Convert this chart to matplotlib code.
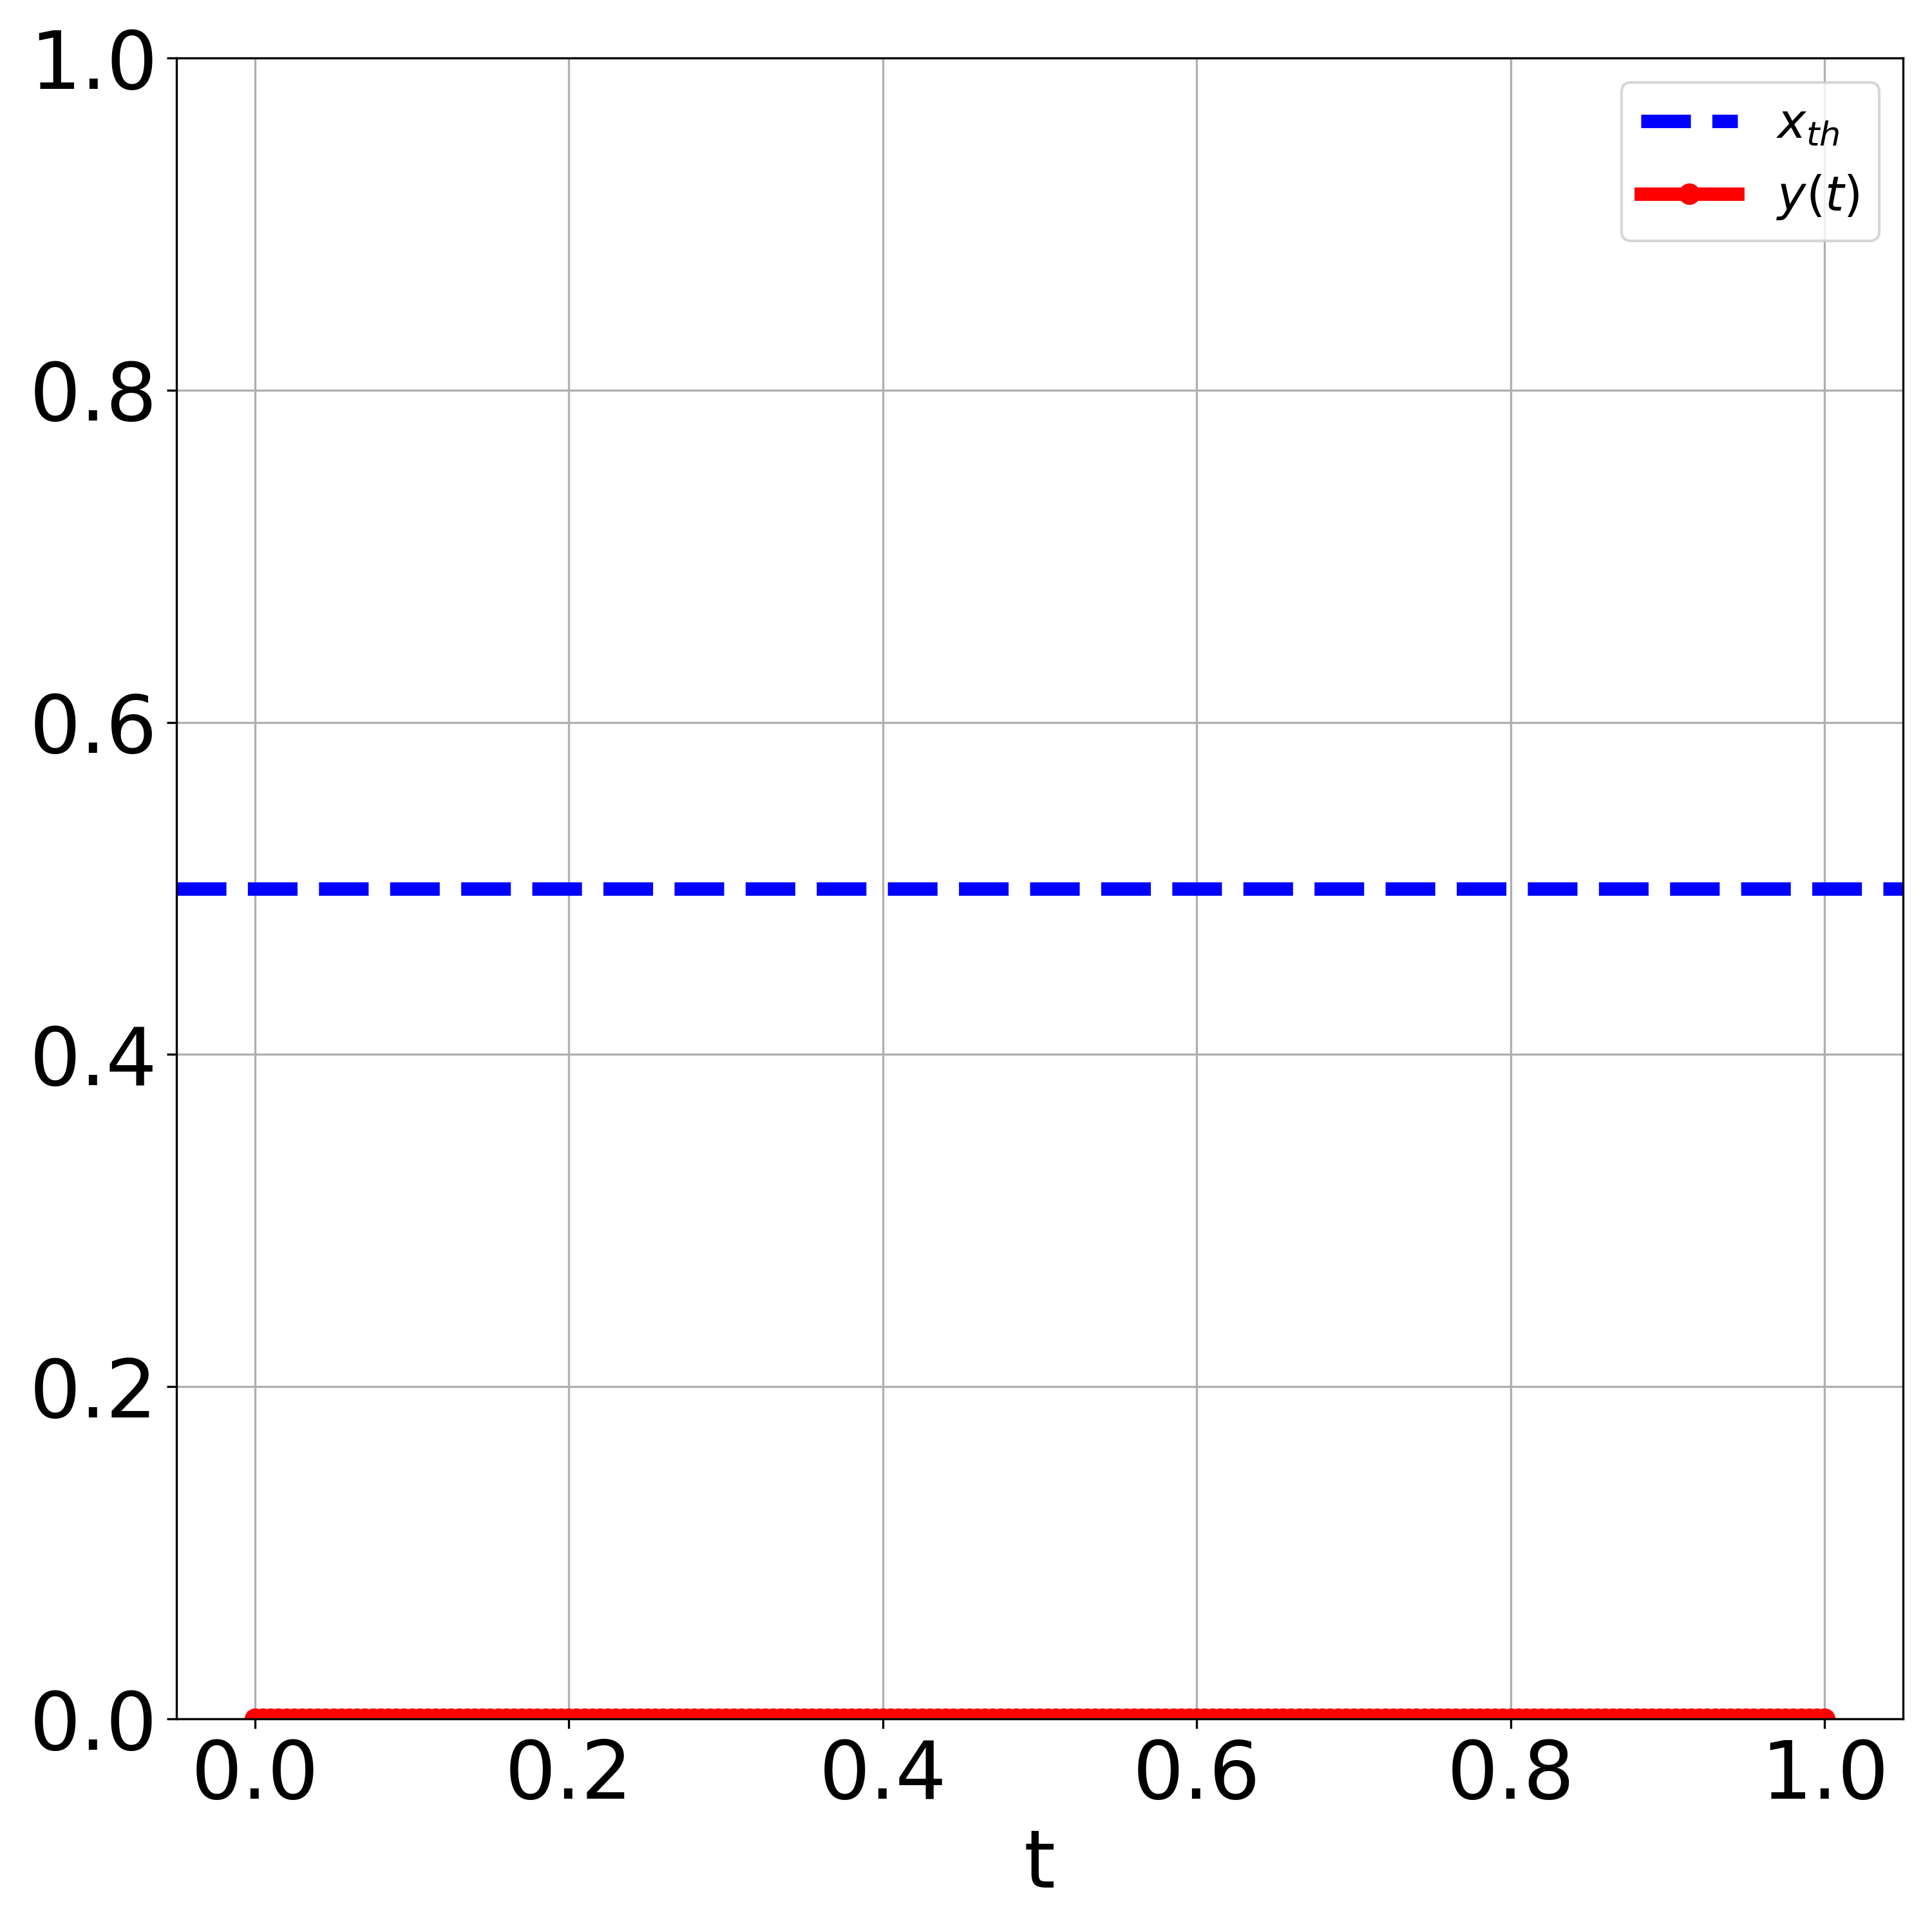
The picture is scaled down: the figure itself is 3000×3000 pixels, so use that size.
import matplotlib
matplotlib.use("Agg")
import matplotlib.pyplot as plt

# data: sampling times of y(t) (dense grid) and the signal values (all zero)
t = [0.000, 0.005, 0.010, 0.015, 0.020, 0.025, 0.030, 0.035, 0.040, 0.045,
     0.050, 0.055, 0.060, 0.065, 0.070, 0.075, 0.080, 0.085, 0.090, 0.095,
     0.100, 0.105, 0.110, 0.115, 0.120, 0.125, 0.130, 0.135, 0.140, 0.145,
     0.150, 0.155, 0.160, 0.165, 0.170, 0.175, 0.180, 0.185, 0.190, 0.195,
     0.200, 0.205, 0.210, 0.215, 0.220, 0.225, 0.230, 0.235, 0.240, 0.245,
     0.250, 0.255, 0.260, 0.265, 0.270, 0.275, 0.280, 0.285, 0.290, 0.295,
     0.300, 0.305, 0.310, 0.315, 0.320, 0.325, 0.330, 0.335, 0.340, 0.345,
     0.350, 0.355, 0.360, 0.365, 0.370, 0.375, 0.380, 0.385, 0.390, 0.395,
     0.400, 0.405, 0.410, 0.415, 0.420, 0.425, 0.430, 0.435, 0.440, 0.445,
     0.450, 0.455, 0.460, 0.465, 0.470, 0.475, 0.480, 0.485, 0.490, 0.495,
     0.500, 0.505, 0.510, 0.515, 0.520, 0.525, 0.530, 0.535, 0.540, 0.545,
     0.550, 0.555, 0.560, 0.565, 0.570, 0.575, 0.580, 0.585, 0.590, 0.595,
     0.600, 0.605, 0.610, 0.615, 0.620, 0.625, 0.630, 0.635, 0.640, 0.645,
     0.650, 0.655, 0.660, 0.665, 0.670, 0.675, 0.680, 0.685, 0.690, 0.695,
     0.700, 0.705, 0.710, 0.715, 0.720, 0.725, 0.730, 0.735, 0.740, 0.745,
     0.750, 0.755, 0.760, 0.765, 0.770, 0.775, 0.780, 0.785, 0.790, 0.795,
     0.800, 0.805, 0.810, 0.815, 0.820, 0.825, 0.830, 0.835, 0.840, 0.845,
     0.850, 0.855, 0.860, 0.865, 0.870, 0.875, 0.880, 0.885, 0.890, 0.895,
     0.900, 0.905, 0.910, 0.915, 0.920, 0.925, 0.930, 0.935, 0.940, 0.945,
     0.950, 0.955, 0.960, 0.965, 0.970, 0.975, 0.980, 0.985, 0.990, 0.995,
     1.000]
y = [0.0] * len(t)
x_th = 0.5

fig, ax = plt.subplots(figsize=(10, 10), dpi=300)
fig.subplots_adjust(left=0.0913, right=0.985, top=0.97, bottom=0.1103)

ax.axhline(x_th, color='blue', linestyle='--', linewidth=5, label=r'$x_{th}$')
ax.plot(t, y, color='red', linewidth=5, marker='o', markersize=7, label=r'$y(t)$')

ax.set_ylim(0, 1)
ax.set_xlabel('t', fontsize=30)
ax.tick_params(axis='both', labelsize=30)
ax.grid(True)
ax.legend(loc='upper right', fontsize=18)

fig.savefig('out.png', dpi=300)
